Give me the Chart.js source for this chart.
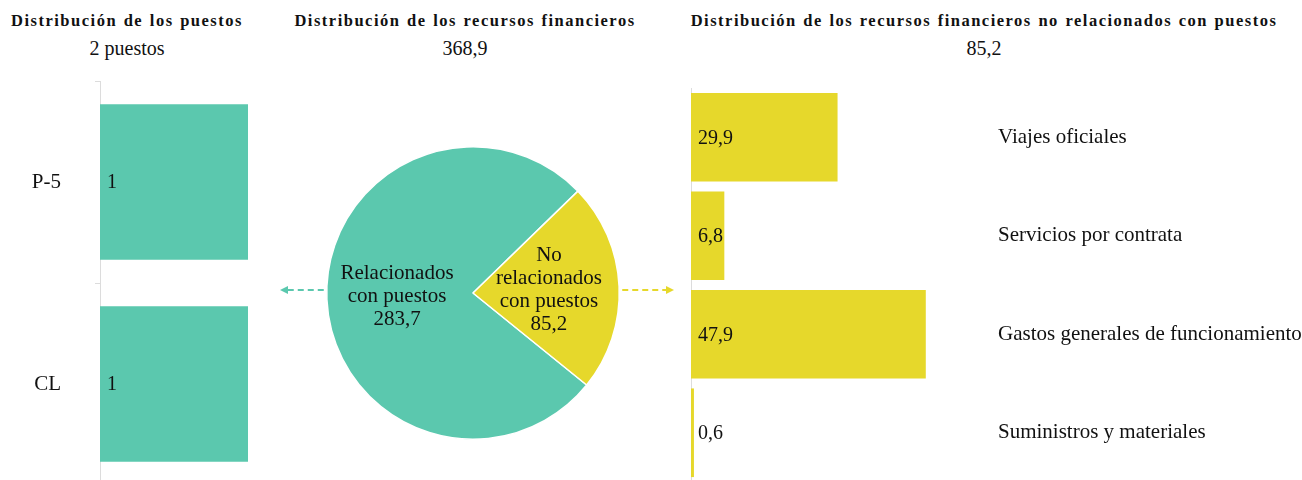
<!DOCTYPE html>
<html>
<head>
<meta charset="utf-8">
<script src="https://cdn.jsdelivr.net/npm/chart.js@4.4.1/dist/chart.umd.min.js"></script>
<style>
  body { margin: 0; width: 1302px; height: 480px; position: relative; overflow: hidden; background: #fff;
         font-family: "Liberation Serif", "Times New Roman", serif; color: #111; }
  .head { position: absolute; top: 11px; text-align: center; }
  .head b { display: block; font-size: 16.5px; letter-spacing: 1.5px; word-spacing: 1px; }
  .head span { display: block; font-size: 20px; margin-top: 6px; }
  .box { position: absolute; }
</style>
</head>
<body>
<div class="head" style="left:0;width:254px"><b>Distribución de los puestos</b><span>2 puestos</span></div>
<div class="head" style="left:265px;width:400px"><b>Distribución de los recursos financieros</b><span>368,9</span></div>
<div class="head" style="left:634px;width:700px"><b>Distribución de los recursos financieros no relacionados con puestos</b><span>85,2</span></div>

<div class="box" style="left:0;top:81px;width:285px;height:404px"><canvas id="posts"></canvas></div>
<div class="box" style="left:266px;top:136px;width:414px;height:314px"><canvas id="resources"></canvas></div>
<div class="box" style="left:690px;top:88px;width:612px;height:394px"><canvas id="other"></canvas></div>

<script>
// posts by grade
const postLabels = ['P-5', 'CL'];
const postValues = [1, 1];

// financial resources
const resourceLines = [['Relacionados', 'con puestos'], ['No', 'relacionados', 'con puestos']];
const resourceLabels = ['Relacionados con puestos', 'No relacionados con puestos'];
const resourceValues = [283.7, 85.2];

// non-post resources
const otherLabels = ['Viajes oficiales', 'Servicios por contrata', 'Gastos generales de funcionamiento', 'Suministros y materiales'];
const otherValues = [29.9, 6.8, 47.9, 0.6];

const GREEN = '#5BC8AE';
const YELLOW = '#E6D82B';
const SERIF = '"Liberation Serif", "Times New Roman", serif';
const AXIS = '#dcdcdc';

const fmt = v => String(v).replace('.', ',');

// no label padding above/below the category axes
function noPad(s) {
    s.paddingTop = 0;
    s.paddingBottom = 0;
}

// value written at the start of each bar
const barValues = {
    id: 'barValues',
    afterDatasetsDraw(chart) {
        const ctx = chart.ctx;
        const ds = chart.data.datasets[0];
        ctx.save();
        ctx.font = '20px ' + SERIF;
        ctx.fillStyle = '#111';
        ctx.textAlign = 'left';
        ctx.textBaseline = 'middle';
        chart.getDatasetMeta(0).data.forEach((bar, i) => {
            ctx.fillText(fmt(ds.data[i]), bar.base + 7, bar.y + 1);
        });
        ctx.restore();
    }
};

function arrow(ctx, x0, x1, y, color) {
    const dir = Math.sign(x1 - x0);
    ctx.strokeStyle = color;
    ctx.fillStyle = color;
    ctx.lineWidth = 2;
    ctx.setLineDash([6, 4]);
    ctx.beginPath();
    ctx.moveTo(x0, y);
    ctx.lineTo(x1 - dir * 6, y);
    ctx.stroke();
    ctx.setLineDash([]);
    ctx.beginPath();
    ctx.moveTo(x1, y);
    ctx.lineTo(x1 - dir * 8, y - 4);
    ctx.lineTo(x1 - dir * 8, y + 4);
    ctx.closePath();
    ctx.fill();
}

// labels inside the pie + arrows towards the side charts
const pieExtras = {
    id: 'pieExtras',
    afterDatasetsDraw(chart) {
        const ctx = chart.ctx;
        const arcs = chart.getDatasetMeta(0).data;
        ctx.save();
        ctx.font = '21px ' + SERIF;
        ctx.fillStyle = '#111';
        ctx.textAlign = 'center';
        ctx.textBaseline = 'middle';
        arcs.forEach((arc, i) => {
            const mid = (arc.startAngle + arc.endAngle) / 2;
            const r = arc.outerRadius * 0.52;
            const x = arc.x + Math.cos(mid) * r;
            const y = arc.y + Math.sin(mid) * r;
            const lines = resourceLines[i].concat(fmt(resourceValues[i]));
            lines.forEach((t, k) => ctx.fillText(t, x, y + (k - (lines.length - 1) / 2) * 23));
        });
        const a = arcs[0];
        arrow(ctx, a.x - a.outerRadius - 3, 14, a.y - 3, GREEN);
        arrow(ctx, a.x + a.outerRadius + 3, chart.width - 6, a.y - 3, YELLOW);
        ctx.restore();
    }
};

new Chart(document.getElementById('posts'), {
    type: 'bar',
    data: {
        labels: postLabels,
        datasets: [{ data: postValues, backgroundColor: GREEN, categoryPercentage: 1, barPercentage: 0.77 }]
    },
    options: {
        indexAxis: 'y',
        responsive: true,
        maintainAspectRatio: false,
        animation: false,
        plugins: { legend: { display: false }, tooltip: { enabled: false } },
        scales: {
            x: { display: false, min: 0, max: 1.25 },
            y: {
                grid: { drawOnChartArea: false, tickLength: 5, color: AXIS },
                border: { color: AXIS },
                ticks: { color: '#111', font: { size: 21, family: SERIF }, padding: 34 },
                afterFit(s) { s.width = 100; noPad(s); }
            }
        }
    },
    plugins: [barValues]
});

new Chart(document.getElementById('resources'), {
    type: 'pie',
    data: {
        labels: resourceLabels,
        datasets: [{ data: resourceValues, backgroundColor: [GREEN, YELLOW], borderColor: '#fff', borderWidth: 1.5 }]
    },
    options: {
        responsive: true,
        maintainAspectRatio: false,
        animation: false,
        rotation: 129,
        layout: { padding: { left: 60, right: 60, top: 10, bottom: 10 } },
        plugins: { legend: { display: false }, tooltip: { enabled: false } }
    },
    plugins: [pieExtras]
});

new Chart(document.getElementById('other'), {
    type: 'bar',
    data: {
        labels: otherLabels,
        datasets: [{ data: otherValues, backgroundColor: YELLOW, categoryPercentage: 1, barPercentage: 0.9 }]
    },
    options: {
        indexAxis: 'y',
        responsive: true,
        maintainAspectRatio: false,
        animation: false,
        plugins: { legend: { display: false }, tooltip: { enabled: false } },
        scales: {
            x: { display: false, min: 0, max: 61 },
            y: {
                position: 'right',
                grid: { display: false, drawTicks: false },
                border: { display: false },
                ticks: { color: '#111', font: { size: 21, family: SERIF }, padding: 8, crossAlign: 'near' },
                afterFit(s) { s.width = 312; noPad(s); }
            },
            yLine: {
                type: 'category',
                position: 'left',
                grid: { display: false, drawTicks: false },
                border: { color: AXIS },
                ticks: { display: false },
                afterFit(s) { s.width = 1; noPad(s); }
            }
        }
    },
    plugins: [barValues]
});
</script>
</body>
</html>
